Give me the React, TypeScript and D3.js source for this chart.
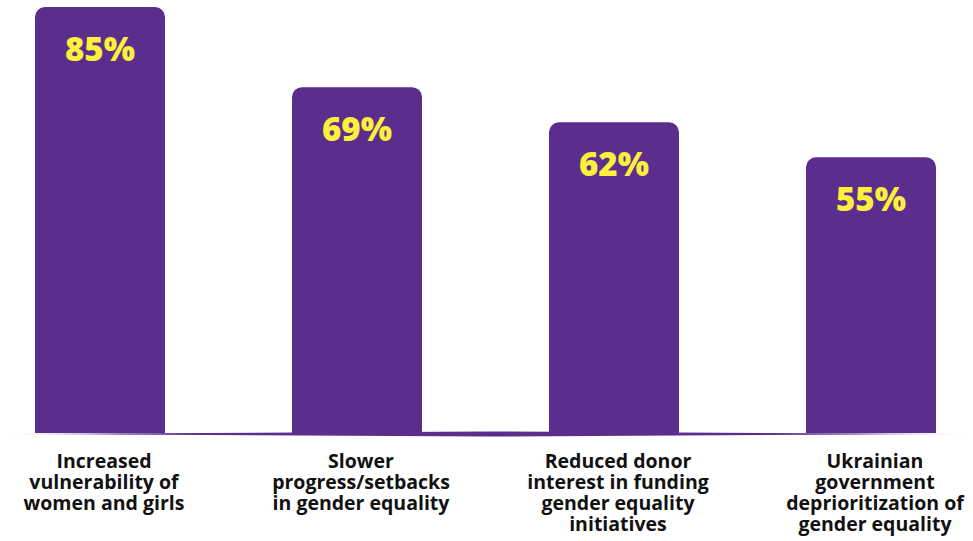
import React from "react";
import * as d3 from "d3";

const categories: string[][] = [
  ["Increased", "vulnerability of", "women and girls"],
  ["Slower", "progress/setbacks", "in gender equality"],
  ["Reduced donor", "interest in funding", "gender equality", "initiatives"],
  ["Ukrainian", "government", "deprioritization of", "gender equality"],
];
const values: number[] = [85, 69, 62, 55];
const valueLabels: string[] = ["85%", "69%", "62%", "55%"];

const W = 973;
const H = 541;
const BASE = 433;
const TOP = 7;
const PURPLE = "#5b2e8e";
const YELLOW = "#fbf03b";

function topRoundedRect(x: number, y: number, w: number, h: number, r: number) {
  const p = d3.path();
  p.moveTo(x, y + h);
  p.lineTo(x, y + r);
  p.arcTo(x, y, x + r, y, r);
  p.lineTo(x + w - r, y);
  p.arcTo(x + w, y, x + w, y + r, r);
  p.lineTo(x + w, y + h);
  p.closePath();
  return p.toString();
}

export default function App() {
  const idx = values.map((_, i) => String(i));
  const x = d3
    .scaleBand<string>()
    .domain(idx)
    .range([-1, W - 1])
    .paddingInner(0.494)
    .paddingOuter(0.14);
  const y = d3
    .scaleLinear()
    .domain([0, d3.max(values) as number])
    .range([BASE, TOP]);

  const mid = W / 2;
  const basePath = `M0,${BASE + 1} L${mid},${BASE - 1.5} L${W},${BASE + 1} L${mid},${BASE + 3.5} Z`;

  return (
    <svg
      width={W}
      height={H}
      style={{ position: "absolute", left: 0, top: 0, background: "#fff" }}
      fontFamily="'Open Sans', sans-serif"
    >
      <defs>
        <linearGradient id="baseGrad" x1="0" x2="1" y1="0" y2="0">
          <stop offset="0" stopColor={PURPLE} stopOpacity={0} />
          <stop offset="0.12" stopColor={PURPLE} stopOpacity={1} />
          <stop offset="0.88" stopColor={PURPLE} stopOpacity={1} />
          <stop offset="1" stopColor={PURPLE} stopOpacity={0} />
        </linearGradient>
      </defs>
      {values.map((v, i) => {
        const bx = x(String(i)) as number;
        const bw = x.bandwidth();
        const by = y(v);
        return (
          <g key={i}>
            <path d={topRoundedRect(bx, by, bw, BASE - by, 10)} fill={PURPLE} />
            <text
              x={bx + bw / 2}
              y={by + 54}
              textAnchor="middle"
              fill={YELLOW}
              fontWeight={800}
              fontSize={33}
            >
              {valueLabels[i]}
            </text>
          </g>
        );
      })}
      <path d={basePath} fill="url(#baseGrad)" />
      {categories.map((lines, i) =>
        lines.map((l, j) => {
          const cx = (x(String(i)) as number) + x.bandwidth() / 2 + 4;
          return (
            <text
              key={`${i}-${j}`}
              x={cx}
              y={468 + j * 21}
              textAnchor="middle"
              fill="#111"
              fontWeight={700}
              fontSize={19.5}
            >
              {l}
            </text>
          );
        })
      )}
    </svg>
  );
}
